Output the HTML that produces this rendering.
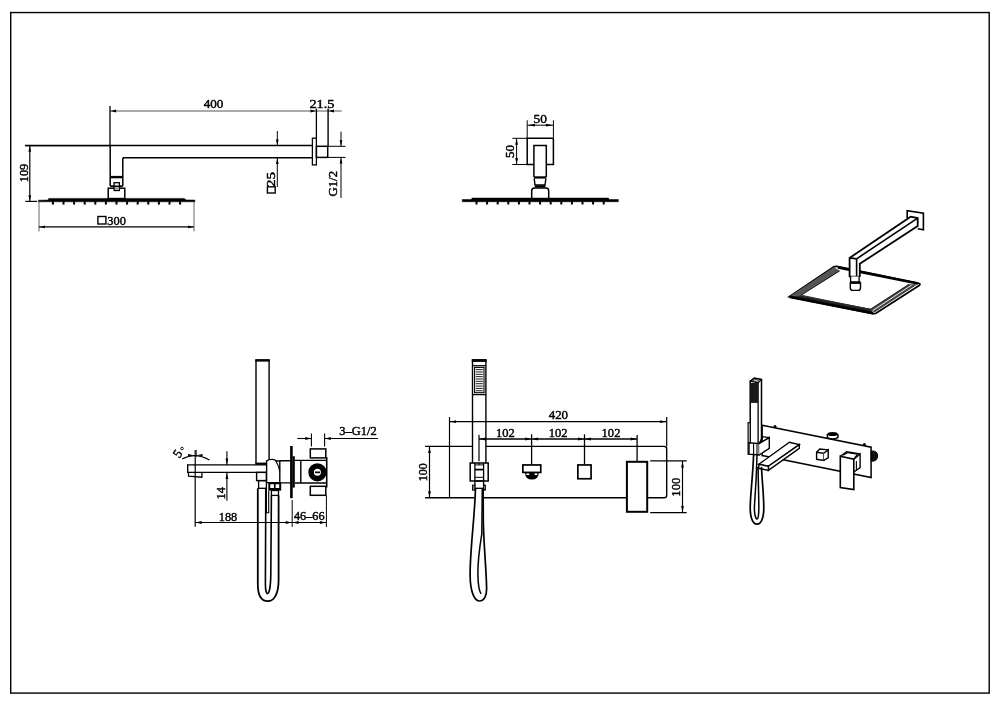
<!DOCTYPE html>
<html><head><meta charset="utf-8"><style>
html,body{margin:0;padding:0;background:#fff;width:1000px;height:706px;overflow:hidden}
svg{display:block;filter:grayscale(100%)}
</style></head><body>
<svg width="1000" height="706" viewBox="0 0 1000 706">
<rect x="10.70" y="12.55" width="978.50" height="680.55" stroke="#000" stroke-width="1.4" fill="none"/>
<line x1="110.00" y1="111.00" x2="341.70" y2="111.00" stroke="#555" stroke-width="1.0"/>
<line x1="110.00" y1="106.00" x2="110.00" y2="146.00" stroke="#000" stroke-width="1.3"/>
<polygon points="110.60,111.00 116.10,109.60 116.10,112.40" fill="#000"/>
<polygon points="316.00,111.00 310.50,109.60 310.50,112.40" fill="#000"/>
<polygon points="328.50,111.00 334.00,109.60 334.00,112.40" fill="#000"/>
<text x="213.50" y="108.30" font-family="Liberation Serif" font-size="13" text-anchor="middle" font-weight="normal" fill="#000" stroke="#000" stroke-width="0.45" textLength="19.599999999999998" lengthAdjust="spacingAndGlyphs">400</text>
<text x="322.00" y="108.20" font-family="Liberation Serif" font-size="13" text-anchor="middle" font-weight="normal" fill="#000" stroke="#000" stroke-width="0.45" textLength="25.099999999999998" lengthAdjust="spacingAndGlyphs">21.5</text>
<line x1="316.40" y1="108.60" x2="316.40" y2="138.20" stroke="#000" stroke-width="1.3"/>
<line x1="328.10" y1="108.60" x2="328.10" y2="146.40" stroke="#000" stroke-width="1.4"/>
<line x1="25.00" y1="145.60" x2="312.40" y2="145.60" stroke="#000" stroke-width="1.5"/>
<line x1="123.00" y1="157.80" x2="312.40" y2="157.80" stroke="#000" stroke-width="1.5"/>
<line x1="110.20" y1="145.60" x2="110.20" y2="186.00" stroke="#000" stroke-width="1.5"/>
<line x1="122.80" y1="157.80" x2="122.80" y2="186.00" stroke="#000" stroke-width="1.5"/>
<rect x="110.20" y="175.90" width="12.60" height="2.40" fill="#000"/>
<rect x="312.40" y="138.20" width="4.00" height="26.70" stroke="#000" stroke-width="1.3" fill="none"/>
<rect x="316.40" y="146.30" width="11.30" height="11.10" stroke="#000" stroke-width="1.5" fill="none"/>
<rect x="108.20" y="188.20" width="16.60" height="10.40" stroke="#000" stroke-width="1.5" fill="#fff"/>
<rect x="110.20" y="185.30" width="12.60" height="1.80" fill="#000"/>
<rect x="114.10" y="182.70" width="5.30" height="7.80" stroke="#000" stroke-width="1.3" fill="#fff"/>
<rect x="114.10" y="185.40" width="5.30" height="1.60" fill="#000"/>
<rect x="115.00" y="187.20" width="3.50" height="2.40" fill="#999"/>
<path d="M38.3,200.2 L48.3,200.0 L48.6,198.4 L184,198.4 L186.5,199.9 L194.9,200.0 L194.9,201.8 L38.3,201.8 Z" stroke="#000" stroke-width="0.5" fill="#000" />
<rect x="51.90" y="201.20" width="2.00" height="3.40" fill="#000"/>
<rect x="62.50" y="201.20" width="2.00" height="3.40" fill="#000"/>
<rect x="73.10" y="201.20" width="2.00" height="3.40" fill="#000"/>
<rect x="83.70" y="201.20" width="2.00" height="3.40" fill="#000"/>
<rect x="94.30" y="201.20" width="2.00" height="3.40" fill="#000"/>
<rect x="104.90" y="201.20" width="2.00" height="3.40" fill="#000"/>
<rect x="115.50" y="201.20" width="2.00" height="3.40" fill="#000"/>
<rect x="126.10" y="201.20" width="2.00" height="3.40" fill="#000"/>
<rect x="136.70" y="201.20" width="2.00" height="3.40" fill="#000"/>
<rect x="147.30" y="201.20" width="2.00" height="3.40" fill="#000"/>
<rect x="157.90" y="201.20" width="2.00" height="3.40" fill="#000"/>
<rect x="168.50" y="201.20" width="2.00" height="3.40" fill="#000"/>
<rect x="179.10" y="201.20" width="2.00" height="3.40" fill="#000"/>
<line x1="25.30" y1="145.60" x2="110.00" y2="145.60" stroke="#000" stroke-width="1.2"/>
<line x1="25.30" y1="201.40" x2="37.00" y2="201.40" stroke="#000" stroke-width="1.2"/>
<line x1="29.80" y1="145.60" x2="29.80" y2="201.40" stroke="#000" stroke-width="1.2"/>
<polygon points="29.80,146.20 28.40,151.70 31.20,151.70" fill="#000"/>
<polygon points="29.80,200.80 28.40,195.30 31.20,195.30" fill="#000"/>
<text x="28.10" y="173.00" font-family="Liberation Serif" font-size="13" text-anchor="middle" font-weight="normal" fill="#000" stroke="#000" stroke-width="0.45" transform="rotate(-90 28.10 173.00)" textLength="18.4" lengthAdjust="spacingAndGlyphs">109</text>
<line x1="39.00" y1="202.00" x2="39.00" y2="231.40" stroke="#666" stroke-width="1.0"/>
<line x1="194.00" y1="202.00" x2="194.00" y2="231.40" stroke="#666" stroke-width="1.0"/>
<line x1="39.00" y1="226.90" x2="194.00" y2="226.90" stroke="#000" stroke-width="1.2"/>
<polygon points="39.50,226.90 45.00,225.50 45.00,228.30" fill="#000"/>
<polygon points="193.50,226.90 188.00,225.50 188.00,228.30" fill="#000"/>
<rect x="97.90" y="216.50" width="8.00" height="7.50" stroke="#000" stroke-width="1.4" fill="none"/>
<text x="116.60" y="224.60" font-family="Liberation Serif" font-size="13" text-anchor="middle" font-weight="normal" fill="#000" stroke="#000" stroke-width="0.45" textLength="18.599999999999998" lengthAdjust="spacingAndGlyphs">300</text>
<line x1="277.30" y1="131.00" x2="277.30" y2="145.60" stroke="#000" stroke-width="1.0"/>
<polygon points="277.30,145.00 275.90,139.50 278.70,139.50" fill="#000"/>
<line x1="277.30" y1="157.80" x2="277.30" y2="187.00" stroke="#000" stroke-width="1.0"/>
<polygon points="277.30,158.40 275.90,163.90 278.70,163.90" fill="#000"/>
<text x="275.30" y="179.50" font-family="Liberation Serif" font-size="13" text-anchor="middle" font-weight="normal" fill="#000" stroke="#000" stroke-width="0.45" transform="rotate(-90 275.30 179.50)" textLength="14.9" lengthAdjust="spacingAndGlyphs">25</text>
<rect x="267.40" y="186.80" width="7.80" height="6.20" stroke="#000" stroke-width="1.4" fill="none"/>
<line x1="327.70" y1="146.30" x2="345.50" y2="146.30" stroke="#000" stroke-width="1.0"/>
<line x1="327.70" y1="157.40" x2="345.50" y2="157.40" stroke="#000" stroke-width="1.0"/>
<line x1="341.00" y1="131.60" x2="341.00" y2="146.30" stroke="#000" stroke-width="1.0"/>
<polygon points="341.00,145.70 339.60,140.20 342.40,140.20" fill="#000"/>
<line x1="341.00" y1="157.40" x2="341.00" y2="198.00" stroke="#000" stroke-width="1.0"/>
<polygon points="341.00,158.00 339.60,163.50 342.40,163.50" fill="#000"/>
<text x="337.40" y="183.70" font-family="Liberation Serif" font-size="13" text-anchor="middle" font-weight="normal" fill="#000" stroke="#000" stroke-width="0.45" transform="rotate(-90 337.40 183.70)" textLength="25.4" lengthAdjust="spacingAndGlyphs">G1/2</text>
<text x="540.30" y="122.60" font-family="Liberation Serif" font-size="13" text-anchor="middle" font-weight="normal" fill="#000" stroke="#000" stroke-width="0.45" textLength="13.4" lengthAdjust="spacingAndGlyphs">50</text>
<line x1="527.40" y1="125.20" x2="553.40" y2="125.20" stroke="#000" stroke-width="1.0"/>
<polygon points="527.90,125.20 534.90,123.80 534.90,126.60" fill="#000"/>
<polygon points="552.90,125.20 545.90,123.80 545.90,126.60" fill="#000"/>
<line x1="527.20" y1="120.30" x2="527.20" y2="138.30" stroke="#000" stroke-width="1.0"/>
<line x1="553.40" y1="120.30" x2="553.40" y2="138.30" stroke="#000" stroke-width="1.0"/>
<path d="M527.2,164.5 L527.2,138.3 L552.2,138.3 Q553.4,138.3 553.4,139.5 L553.4,164.5 Z" stroke="#000" stroke-width="1.5" fill="none" />
<line x1="512.30" y1="138.30" x2="527.20" y2="138.30" stroke="#000" stroke-width="1.0"/>
<line x1="512.30" y1="164.50" x2="527.20" y2="164.50" stroke="#000" stroke-width="1.0"/>
<line x1="516.60" y1="138.30" x2="516.60" y2="164.50" stroke="#000" stroke-width="1.0"/>
<polygon points="516.60,138.80 515.20,144.80 518.00,144.80" fill="#000"/>
<polygon points="516.60,164.00 515.20,158.00 518.00,158.00" fill="#000"/>
<text x="513.60" y="151.50" font-family="Liberation Serif" font-size="13" text-anchor="middle" font-weight="normal" fill="#000" stroke="#000" stroke-width="0.45" transform="rotate(-90 513.60 151.50)" textLength="12.9" lengthAdjust="spacingAndGlyphs">50</text>
<path d="M533.9,177 L533.9,145.4 L546.3,145.4 L546.3,177" stroke="#000" stroke-width="1.5" fill="#fff" />
<rect x="533.90" y="176.30" width="12.40" height="2.30" fill="#000"/>
<path d="M534.2,178.5 L535,185 L545,185 L545.9,178.5" stroke="#000" stroke-width="1.4" fill="none" />
<rect x="534.80" y="185.30" width="10.60" height="2.20" fill="#000"/>
<path d="M531.7,198.4 L531.7,191 Q531.7,188 534.5,188 L546,188 Q548.7,188 548.7,191 L548.7,198.4" stroke="#000" stroke-width="1.5" fill="none" />
<path d="M462.3,199.6 L471.5,199.6 L472,198.1 L608.5,198.1 L609,199.6 L618.3,199.6 L618.3,201.7 L462.3,201.7 Z" stroke="#000" stroke-width="0.6" fill="#000" />
<rect x="475.50" y="201.20" width="2.00" height="3.30" fill="#000"/>
<rect x="486.10" y="201.20" width="2.00" height="3.30" fill="#000"/>
<rect x="496.70" y="201.20" width="2.00" height="3.30" fill="#000"/>
<rect x="507.30" y="201.20" width="2.00" height="3.30" fill="#000"/>
<rect x="517.90" y="201.20" width="2.00" height="3.30" fill="#000"/>
<rect x="528.50" y="201.20" width="2.00" height="3.30" fill="#000"/>
<rect x="539.10" y="201.20" width="2.00" height="3.30" fill="#000"/>
<rect x="549.70" y="201.20" width="2.00" height="3.30" fill="#000"/>
<rect x="560.30" y="201.20" width="2.00" height="3.30" fill="#000"/>
<rect x="570.90" y="201.20" width="2.00" height="3.30" fill="#000"/>
<rect x="581.50" y="201.20" width="2.00" height="3.30" fill="#000"/>
<rect x="592.10" y="201.20" width="2.00" height="3.30" fill="#000"/>
<rect x="602.70" y="201.20" width="2.00" height="3.30" fill="#000"/>
<path d="M789.3,296.7 L833.5,266.9 Q836.5,265.8 840,267.2 L918.5,283.2 Q921,284 919.5,285.2 L876,313.2 Q874,314 871.5,313.4 Z" stroke="#000" stroke-width="1.7" fill="#fff" />
<path d="M839.4,270.6 L799,296.2 L870.5,309.5 L909.5,284.3" stroke="#000" stroke-width="1.4" fill="none" />
<path d="M789.6,296.4 L873.5,313.2 L871,309.3 L800,295.2 Z" fill="#222"/>
<path d="M790.5,295.8 L834,267.2 L839.4,270.6 L799,296.2 Z" fill="#555"/>
<path d="M917.5,284.2 L874.5,312.5 L870.5,309.5 L909.5,284.3 Z" fill="#444"/>
<path d="M911.6,285.1 L872.8,310.5" stroke="#fff" stroke-width="0.9" fill="none" />
<path d="M838,267.3 L918,283.5" stroke="#000" stroke-width="2.8" fill="none" />
<path d="M790,297 L873,313.3" stroke="#000" stroke-width="2.6" fill="none" />
<path d="M802,295.4 L870,309.3" stroke="#333" stroke-width="1.0" fill="none" />
<path d="M849.6,276.5 L849.6,257.9 L910.6,216.7 L917.7,218.1 L917.7,226.1 L859.8,263.8 L859.8,276.3 L856.6,276.8 Z" stroke="#000" stroke-width="1.8" fill="#fff" />
<path d="M849.6,257.9 L856.6,258.8 L917.7,218.1" stroke="#000" stroke-width="1.6" fill="none" />
<line x1="856.60" y1="258.80" x2="856.60" y2="276.80" stroke="#000" stroke-width="1.6"/>
<path d="M907.2,218.2 L907.2,210.8 L923.4,213.3 L923.4,229.8 L917.7,228.8" stroke="#000" stroke-width="1.6" fill="none" />
<path d="M850.6,276.6 L850.6,282.5 L859.1,282.5 L859.1,276.4" stroke="#000" stroke-width="1.3" fill="#fff" />
<path d="M850.3,283 L850.3,288 Q850.3,290.4 853,290.4 L858,290.4 Q860.5,290.4 860.5,288 L860.5,283 Z" stroke="#000" stroke-width="1.4" fill="#fff" />
<rect x="850.20" y="281.30" width="10.40" height="2.30" fill="#000"/>
<path d="M256,463.8 L256,360.3 L269.1,360.3 L269.1,463.8" stroke="#000" stroke-width="1.4" fill="none" />
<rect x="255.30" y="359.20" width="14.50" height="2.40" fill="#000"/>
<rect x="255.30" y="462.60" width="14.50" height="2.20" fill="#000"/>
<path d="M266.6,464.9 L187.7,464.9 L187.7,472.4 L266.6,472.4" stroke="#000" stroke-width="1.4" fill="none" />
<path d="M188.5,472.4 L188.5,476.2 L201.9,477.2 L201.9,472.4" stroke="#000" stroke-width="1.3" fill="none" />
<rect x="256.60" y="472.40" width="9.80" height="8.20" stroke="#000" stroke-width="1.4" fill="none"/>
<rect x="258.60" y="480.60" width="7.80" height="7.70" stroke="#000" stroke-width="1.3" fill="none"/>
<path d="M266.6,482.6 L266.6,460.8 Q269.5,459.2 272.5,459.4 Q275,459.6 276.3,461 L279.8,461 L279.8,482.6 Z" stroke="#000" stroke-width="1.4" fill="#fff" />
<path d="M275.6,461 Q278.3,464.5 279.8,471.5" stroke="#000" stroke-width="1.2" fill="none" />
<path d="M279.8,460.8 L290.3,460.8 M279.8,482.9 L290.3,482.9" stroke="#000" stroke-width="1.4" fill="none" />
<rect x="268.30" y="482.20" width="12.90" height="8.40" fill="#000"/>
<rect x="270.30" y="484.20" width="3.60" height="3.80" fill="#fff"/>
<rect x="275.60" y="484.20" width="3.60" height="3.80" fill="#fff"/>
<rect x="271.40" y="490.50" width="7.10" height="4.90" stroke="#000" stroke-width="1.3" fill="none"/>
<path d="M266.4,488 L266.4,512.8 L268.7,512.8 L268.7,490.5" stroke="#000" stroke-width="1.1" fill="none" />
<path d="M257.8,488.3 L257.8,584 C257.8,596 262,601.2 267.8,601.2 C274,601.2 278.6,594 278.6,580 L278.6,495.4" stroke="#000" stroke-width="1.8" fill="none" />
<path d="M265.8,488.3 L265.4,584 C265.4,590 266.4,593.6 267.5,593.6 C268.8,593.6 270.6,588 270.8,575 L271.4,495.4" stroke="#000" stroke-width="1.6" fill="none" />
<rect x="290.10" y="446.00" width="2.60" height="52.20" fill="#000"/>
<rect x="292.50" y="456.20" width="2.30" height="31.40" fill="#000"/>
<path d="M294.8,460.4 L326.7,460.4 M294.8,483 L326.7,483" stroke="#000" stroke-width="1.4" fill="none" />
<line x1="300.80" y1="460.40" x2="300.80" y2="483.00" stroke="#000" stroke-width="1.4"/>
<line x1="326.70" y1="457.00" x2="326.70" y2="487.50" stroke="#000" stroke-width="1.6"/>
<rect x="310.30" y="448.90" width="15.50" height="9.00" stroke="#000" stroke-width="1.5" fill="none"/>
<rect x="310.30" y="486.30" width="15.50" height="9.00" stroke="#000" stroke-width="1.5" fill="none"/>
<circle cx="317.4" cy="472.3" r="6.3" fill="none" stroke="#000" stroke-width="5.6"/>
<rect x="315.00" y="471.50" width="5.00" height="1.70" fill="#000"/>
<line x1="311.40" y1="433.60" x2="311.40" y2="446.40" stroke="#000" stroke-width="1.1"/>
<line x1="324.60" y1="433.60" x2="324.60" y2="446.40" stroke="#000" stroke-width="1.1"/>
<line x1="297.30" y1="438.50" x2="311.40" y2="438.50" stroke="#000" stroke-width="1.1"/>
<polygon points="311.20,438.50 305.20,437.10 305.20,439.90" fill="#000"/>
<line x1="324.60" y1="438.50" x2="378.00" y2="438.50" stroke="#000" stroke-width="1.2"/>
<polygon points="324.80,438.50 330.80,437.10 330.80,439.90" fill="#000"/>
<text x="358.00" y="434.50" font-family="Liberation Serif" font-size="13" text-anchor="middle" font-weight="normal" fill="#000" stroke="#000" stroke-width="0.45" textLength="37.4" lengthAdjust="spacingAndGlyphs">3&#8211;G1/2</text>
<line x1="195.20" y1="449.90" x2="195.20" y2="526.80" stroke="#000" stroke-width="1.2"/>
<line x1="196.60" y1="449.90" x2="196.60" y2="457.00" stroke="#555" stroke-width="1.0"/>
<path d="M182.1,459.1 Q195.2,451.5 209.5,460.1" stroke="#000" stroke-width="1.2" fill="none" />
<polygon points="194.00,455.20 188.00,454.10 188.00,456.30" fill="#000"/>
<polygon points="196.60,455.20 202.60,454.10 202.60,456.30" fill="#000"/>
<text x="181.20" y="456.00" font-family="Liberation Serif" font-size="13" text-anchor="middle" font-weight="normal" fill="#000" stroke="#000" stroke-width="0.45" transform="rotate(-55 181.20 456.00)">5</text>
<circle cx="182" cy="448.5" r="1.3" fill="none" stroke="#000" stroke-width="0.9"/>
<line x1="226.90" y1="451.20" x2="226.90" y2="464.90" stroke="#000" stroke-width="1.1"/>
<polygon points="226.90,464.40 225.50,458.40 228.30,458.40" fill="#000"/>
<line x1="226.90" y1="472.40" x2="226.90" y2="500.80" stroke="#000" stroke-width="1.1"/>
<polygon points="226.90,472.90 225.50,478.90 228.30,478.90" fill="#000"/>
<text x="225.00" y="493.30" font-family="Liberation Serif" font-size="13" text-anchor="middle" font-weight="normal" fill="#000" stroke="#000" stroke-width="0.45" transform="rotate(-90 225.00 493.30)" textLength="12.4" lengthAdjust="spacingAndGlyphs">14</text>
<line x1="195.20" y1="522.50" x2="326.40" y2="522.50" stroke="#000" stroke-width="1.2"/>
<polygon points="195.70,522.50 201.70,521.10 201.70,523.90" fill="#000"/>
<polygon points="291.70,522.50 285.70,521.10 285.70,523.90" fill="#000"/>
<polygon points="292.70,522.50 298.70,521.10 298.70,523.90" fill="#000"/>
<polygon points="325.90,522.50 319.90,521.10 319.90,523.90" fill="#000"/>
<line x1="292.20" y1="500.00" x2="292.20" y2="526.80" stroke="#000" stroke-width="1.0"/>
<line x1="326.40" y1="495.50" x2="326.40" y2="527.00" stroke="#000" stroke-width="1.0"/>
<text x="228.00" y="520.60" font-family="Liberation Serif" font-size="13" text-anchor="middle" font-weight="normal" fill="#000" stroke="#000" stroke-width="0.45" textLength="18.4" lengthAdjust="spacingAndGlyphs">188</text>
<text x="309.30" y="520.20" font-family="Liberation Serif" font-size="13" text-anchor="middle" font-weight="normal" fill="#000" stroke="#000" stroke-width="0.45" textLength="30.599999999999998" lengthAdjust="spacingAndGlyphs">46&#8211;66</text>
<line x1="425.10" y1="446.40" x2="472.50" y2="446.40" stroke="#000" stroke-width="1.4"/>
<line x1="485.90" y1="446.40" x2="664.00" y2="446.40" stroke="#000" stroke-width="1.4"/>
<path d="M664,446.4 Q666.7,446.4 666.7,449 L666.7,495.2 Q666.7,497.8 664,497.8 L648,497.8" stroke="#000" stroke-width="1.4" fill="none" />
<line x1="425.10" y1="497.80" x2="474.50" y2="497.80" stroke="#000" stroke-width="1.4"/>
<line x1="483.60" y1="497.80" x2="626.00" y2="497.80" stroke="#000" stroke-width="1.4"/>
<line x1="449.50" y1="417.00" x2="449.50" y2="497.80" stroke="#000" stroke-width="1.2"/>
<line x1="666.70" y1="417.00" x2="666.70" y2="446.40" stroke="#000" stroke-width="1.2"/>
<line x1="449.50" y1="421.70" x2="666.70" y2="421.70" stroke="#000" stroke-width="1.3"/>
<polygon points="450.00,421.70 456.00,420.30 456.00,423.10" fill="#000"/>
<polygon points="666.20,421.70 660.20,420.30 660.20,423.10" fill="#000"/>
<text x="558.40" y="419.10" font-family="Liberation Serif" font-size="13" text-anchor="middle" font-weight="normal" fill="#000" stroke="#000" stroke-width="0.45" textLength="19.4" lengthAdjust="spacingAndGlyphs">420</text>
<line x1="479.00" y1="439.00" x2="637.10" y2="439.00" stroke="#000" stroke-width="1.3"/>
<line x1="479.00" y1="434.70" x2="479.00" y2="461.20" stroke="#000" stroke-width="1.2"/>
<line x1="531.60" y1="434.30" x2="531.60" y2="464.10" stroke="#000" stroke-width="1.3"/>
<line x1="584.50" y1="434.30" x2="584.50" y2="464.10" stroke="#000" stroke-width="1.3"/>
<line x1="637.10" y1="434.90" x2="637.10" y2="460.90" stroke="#000" stroke-width="1.3"/>
<polygon points="479.50,439.00 485.50,437.60 485.50,440.40" fill="#000"/>
<polygon points="531.10,439.00 525.10,437.60 525.10,440.40" fill="#000"/>
<polygon points="532.10,439.00 538.10,437.60 538.10,440.40" fill="#000"/>
<polygon points="584.00,439.00 578.00,437.60 578.00,440.40" fill="#000"/>
<polygon points="585.00,439.00 591.00,437.60 591.00,440.40" fill="#000"/>
<polygon points="636.60,439.00 630.60,437.60 630.60,440.40" fill="#000"/>
<text x="505.40" y="436.80" font-family="Liberation Serif" font-size="13" text-anchor="middle" font-weight="normal" fill="#000" stroke="#000" stroke-width="0.45" textLength="18.799999999999997" lengthAdjust="spacingAndGlyphs">102</text>
<text x="558.20" y="436.80" font-family="Liberation Serif" font-size="13" text-anchor="middle" font-weight="normal" fill="#000" stroke="#000" stroke-width="0.45" textLength="18.799999999999997" lengthAdjust="spacingAndGlyphs">102</text>
<text x="611.00" y="436.80" font-family="Liberation Serif" font-size="13" text-anchor="middle" font-weight="normal" fill="#000" stroke="#000" stroke-width="0.45" textLength="18.799999999999997" lengthAdjust="spacingAndGlyphs">102</text>
<line x1="429.50" y1="446.40" x2="429.50" y2="497.80" stroke="#000" stroke-width="1.2"/>
<polygon points="429.50,447.00 428.10,453.00 430.90,453.00" fill="#000"/>
<polygon points="429.50,497.20 428.10,491.20 430.90,491.20" fill="#000"/>
<text x="427.40" y="472.20" font-family="Liberation Serif" font-size="13" text-anchor="middle" font-weight="normal" fill="#000" stroke="#000" stroke-width="0.45" transform="rotate(-90 427.40 472.20)" textLength="18.0" lengthAdjust="spacingAndGlyphs">100</text>
<rect x="522.85" y="464.95" width="17.90" height="7.45" stroke="#000" stroke-width="1.7" fill="none"/>
<path d="M525,472.4 L538.8,472.4 Q538.5,479.6 531.9,479.6 Q525.3,479.6 525,472.4 Z" fill="#000"/>
<ellipse cx="527.8" cy="474.2" rx="1.6" ry="0.9" fill="#fff"/>
<ellipse cx="535.9" cy="474.2" rx="1.6" ry="0.9" fill="#fff"/>
<rect x="577.85" y="464.95" width="13.20" height="13.80" stroke="#000" stroke-width="1.7" fill="none"/>
<rect x="626.90" y="461.80" width="20.30" height="50.00" stroke="#000" stroke-width="2.0" fill="none"/>
<line x1="650.20" y1="460.90" x2="686.70" y2="460.90" stroke="#000" stroke-width="1.2"/>
<line x1="650.20" y1="512.60" x2="686.70" y2="512.60" stroke="#000" stroke-width="1.2"/>
<line x1="682.50" y1="460.90" x2="682.50" y2="512.60" stroke="#000" stroke-width="1.2"/>
<polygon points="682.50,461.50 681.10,467.50 683.90,467.50" fill="#000"/>
<polygon points="682.50,512.00 681.10,506.00 683.90,506.00" fill="#000"/>
<text x="679.60" y="487.20" font-family="Liberation Serif" font-size="13" text-anchor="middle" font-weight="normal" fill="#000" stroke="#000" stroke-width="0.45" transform="rotate(-90 679.60 487.20)" textLength="19.0" lengthAdjust="spacingAndGlyphs">100</text>
<path d="M472.5,463 L472.5,360.3 L485.9,360.3 L485.9,463" stroke="#000" stroke-width="1.4" fill="none" />
<rect x="471.80" y="359.10" width="14.80" height="2.80" fill="#000"/>
<line x1="472.50" y1="365.70" x2="485.90" y2="365.70" stroke="#000" stroke-width="1.2"/>
<line x1="472.50" y1="394.60" x2="485.90" y2="394.60" stroke="#000" stroke-width="1.3"/>
<rect x="474.60" y="367.40" width="9.40" height="25.30" stroke="#000" stroke-width="1.1" fill="none"/>
<line x1="475.80" y1="369.60" x2="482.80" y2="369.60" stroke="#000" stroke-width="0.9"/>
<line x1="475.80" y1="371.95" x2="482.80" y2="371.95" stroke="#000" stroke-width="0.9"/>
<line x1="475.80" y1="374.30" x2="482.80" y2="374.30" stroke="#000" stroke-width="0.9"/>
<line x1="475.80" y1="376.65" x2="482.80" y2="376.65" stroke="#000" stroke-width="0.9"/>
<line x1="475.80" y1="379.00" x2="482.80" y2="379.00" stroke="#000" stroke-width="0.9"/>
<line x1="475.80" y1="381.35" x2="482.80" y2="381.35" stroke="#000" stroke-width="0.9"/>
<line x1="475.80" y1="383.70" x2="482.80" y2="383.70" stroke="#000" stroke-width="0.9"/>
<line x1="475.80" y1="386.05" x2="482.80" y2="386.05" stroke="#000" stroke-width="0.9"/>
<line x1="475.80" y1="388.40" x2="482.80" y2="388.40" stroke="#000" stroke-width="0.9"/>
<line x1="475.80" y1="390.75" x2="482.80" y2="390.75" stroke="#000" stroke-width="0.9"/>
<rect x="470.20" y="463.00" width="18.00" height="18.00" stroke="#000" stroke-width="1.5" fill="#fff"/>
<line x1="474.90" y1="463.00" x2="474.90" y2="481.00" stroke="#000" stroke-width="1.3"/>
<line x1="483.60" y1="463.00" x2="483.60" y2="481.00" stroke="#000" stroke-width="1.3"/>
<line x1="474.90" y1="464.90" x2="483.60" y2="464.90" stroke="#000" stroke-width="1.0"/>
<rect x="474.90" y="468.70" width="8.70" height="1.80" fill="#000"/>
<line x1="474.90" y1="477.30" x2="483.60" y2="477.30" stroke="#000" stroke-width="1.0"/>
<line x1="479.00" y1="463.00" x2="479.00" y2="465.00" stroke="#000" stroke-width="1.0"/>
<rect x="474.90" y="481.00" width="8.70" height="7.30" stroke="#000" stroke-width="1.3" fill="none"/>
<rect x="472.50" y="485.10" width="2.40" height="5.10" stroke="#000" stroke-width="0.9" fill="#888"/>
<rect x="483.60" y="485.10" width="1.80" height="5.10" stroke="#000" stroke-width="0.9" fill="#888"/>
<path d="M475.5,488.3 C474.5,520 470,550 470.1,575 C470.2,592 474.5,601 479.5,601 C484.5,601 486.8,595 486.6,588 C486.4,570 483.6,545 483.3,520 L483.1,488.3" stroke="#000" stroke-width="1.7" fill="none" />
<path d="M481.8,533.9 C479.5,548 477.6,560 477.9,575 C478.1,586 479.3,591 481,593.8" stroke="#000" stroke-width="1.5" fill="none" />
<line x1="482.30" y1="488.30" x2="481.80" y2="534.00" stroke="#000" stroke-width="1.5"/>
<path d="M762.1,425.2 L871.1,447.2 L871.1,477.6 L762.1,455.6 Z" stroke="#000" stroke-width="1.5" fill="#fff" />
<circle cx="775" cy="426.4" r="1.5" fill="#000"/>
<circle cx="864.4" cy="444.4" r="1.5" fill="#000"/>
<path d="M871.1,451 Q877.8,450.5 877.6,456 Q877.5,461.5 871.1,461.2 Z" stroke="#000" stroke-width="1.0" fill="#111" />
<path d="M827.4,434 L827.4,437.6 Q832.6,440.2 837.9,437.6 L837.9,434" stroke="#000" stroke-width="1.5" fill="#fff" />
<ellipse cx="832.6" cy="434.0" rx="5.25" ry="2.0" fill="#000"/>
<path d="M816.6,452.2 L823.7,453.3 L823.7,460.4 L816.6,459.3 Z" stroke="#000" stroke-width="1.4" fill="#fff" />
<path d="M823.7,453.3 L828.2,449.9 L828.2,457.9 L823.7,460.4" stroke="#000" stroke-width="1.4" fill="#fff" />
<path d="M816.6,452.2 L819.7,449.1 L828.2,449.9" stroke="#000" stroke-width="1.4" fill="none" />
<path d="M853.8,459.2 L860.1,453.9 L860.1,467.7 L853.8,472" stroke="#000" stroke-width="1.4" fill="#fff" />
<line x1="856.40" y1="461.00" x2="856.40" y2="470.30" stroke="#000" stroke-width="1.1"/>
<path d="M840.3,456.3 L846.7,451.7 L860.1,453.9" stroke="#000" stroke-width="1.4" fill="none" />
<path d="M843,455.2 L848,452.6 L857.5,454.2 L853.8,459.2" stroke="#000" stroke-width="1.1" fill="none" />
<path d="M840.3,456.3 L853.8,459.2 L853.8,489.6 L840.3,487.5 Z" stroke="#000" stroke-width="1.6" fill="#fff" />
<path d="M758.8,464.3 L789.4,442.3 L799.3,444.6 L768.4,466.3 Z" stroke="#000" stroke-width="1.4" fill="#fff" />
<path d="M768.4,466.3 L799.3,444.6 L799.3,448.3 L768.4,470.4 Z" stroke="#000" stroke-width="1.4" fill="#fff" />
<path d="M758.8,464.3 L768.4,466.3 L768.4,470.4 L758.8,468.4 Z" stroke="#000" stroke-width="1.4" fill="#fff" />
<path d="M750.2,444 L750.2,381.1 L754.2,378 L761.5,379.4 L761.5,444" stroke="#000" stroke-width="1.5" fill="#fff" />
<path d="M750.2,381.1 L758.1,382.8 L761.5,379.4" stroke="#000" stroke-width="1.3" fill="none" />
<line x1="758.10" y1="382.80" x2="758.10" y2="444.00" stroke="#000" stroke-width="1.3"/>
<rect x="750.20" y="383.00" width="7.90" height="19.90" fill="#1a1a1a"/>
<path d="M752.5,380.6 L754.6,379.3 L758.6,380.1 L756.5,381.5 Z" stroke="#000" stroke-width="0.8" fill="#fff" />
<rect x="748.10" y="422.70" width="2.10" height="31.50" stroke="#000" stroke-width="1.2" fill="#fff"/>
<path d="M749,442.7 L759.2,443.6 L759.2,455 L749,454.2 Z" stroke="#000" stroke-width="1.4" fill="#fff" />
<path d="M759.2,443.6 L769.3,437.6 L769.3,448.4 L759.2,455" stroke="#000" stroke-width="1.4" fill="#fff" />
<path d="M759.2,443.6 L762.6,436.6 L769.3,437.6" stroke="#000" stroke-width="1.3" fill="none" />
<line x1="753.60" y1="443.00" x2="753.60" y2="454.50" stroke="#000" stroke-width="1.1"/>
<line x1="757.00" y1="443.30" x2="757.00" y2="454.80" stroke="#000" stroke-width="1.1"/>
<path d="M753.6,455 C752.6,480 750.2,495 750.2,508 C750.2,518 753,524.2 757,524.2 C761,524.2 763.8,518 763.8,508 C763.8,495 762,480 761.5,467" stroke="#000" stroke-width="1.7" fill="none" />
<path d="M757,455 C756.5,478 755.5,492 754.5,505 C754,513 755.5,519 757,519 C758.5,519 759,512 758.8,503 C758.6,490 758.2,478 758.1,467" stroke="#000" stroke-width="1.5" fill="none" />
</svg></body></html>
